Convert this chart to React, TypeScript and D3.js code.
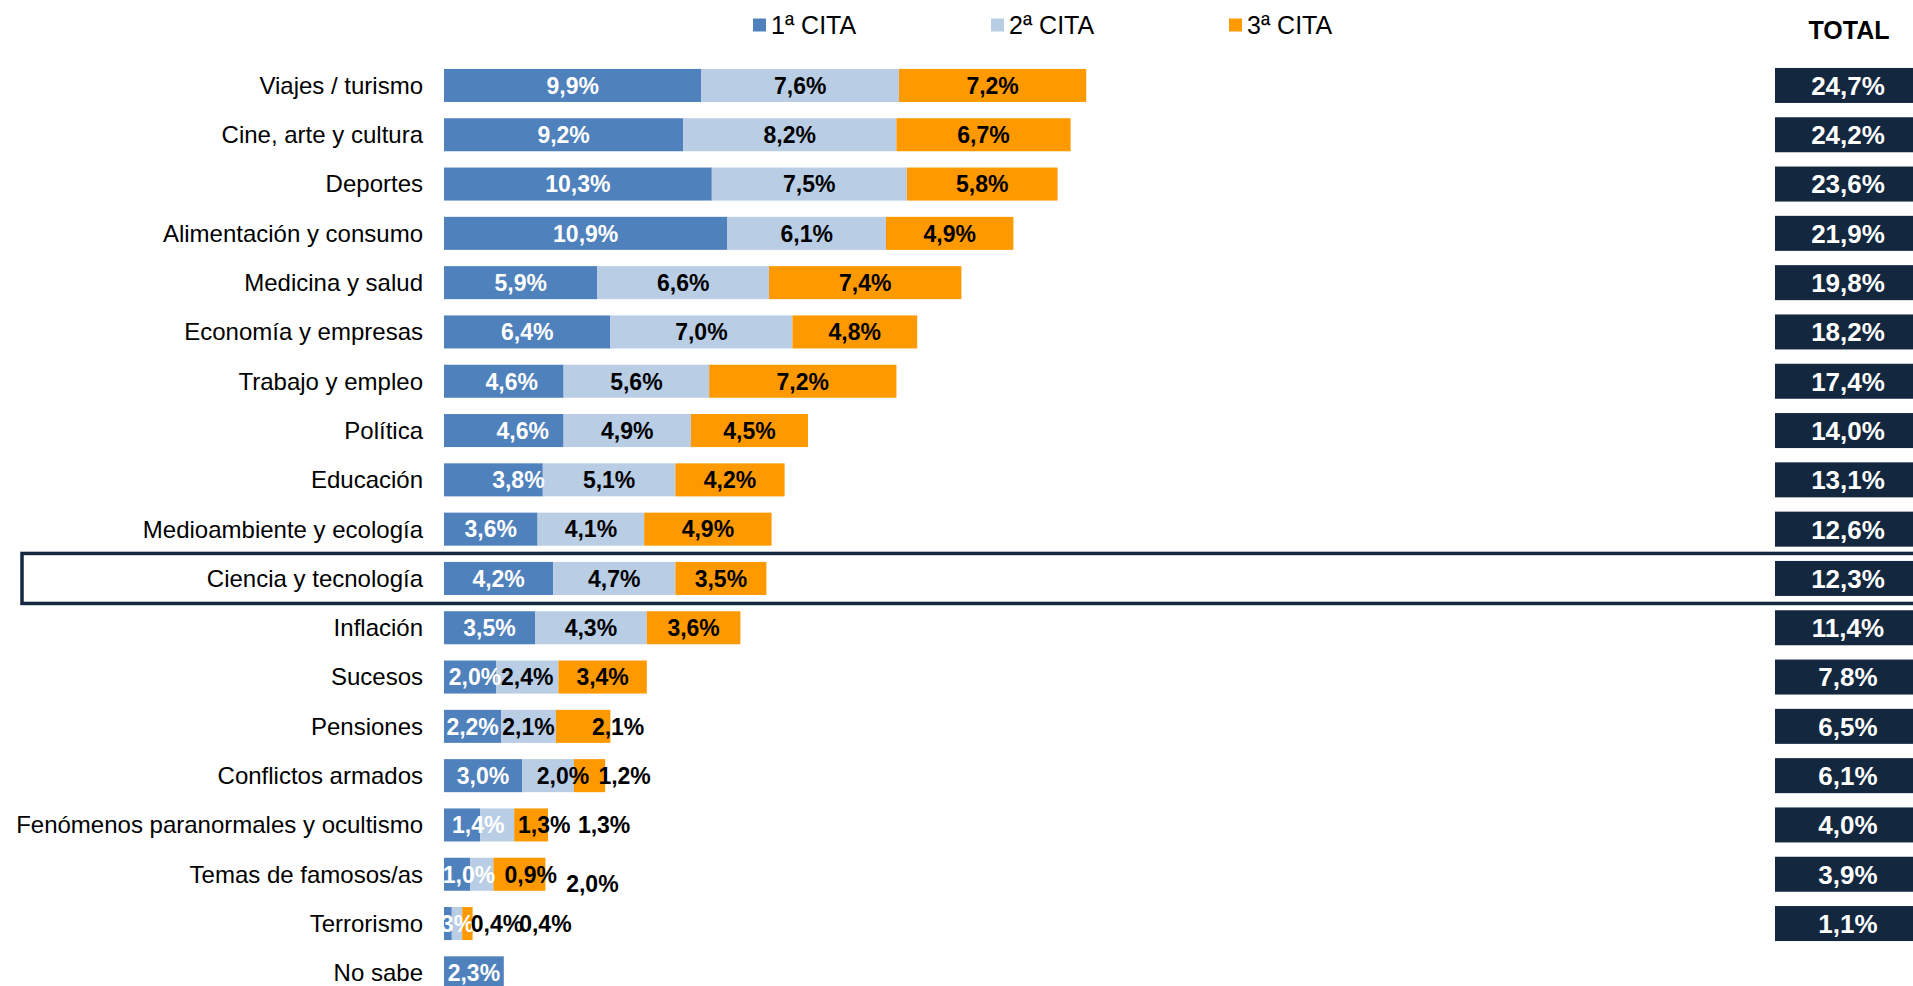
import React from 'react';
import * as d3 from "d3";

const categories = [
    "Viajes / turismo", "Cine, arte y cultura", "Deportes", "Alimentación y consumo",
    "Medicina y salud", "Economía y empresas", "Trabajo y empleo", "Política",
    "Educación", "Medioambiente y ecología", "Ciencia y tecnología", "Inflación",
    "Sucesos", "Pensiones", "Conflictos armados", "Fenómenos paranormales y ocultismo",
    "Temas de famosos/as", "Terrorismo", "No sabe"
];

const cita1 = [9.9, 9.2, 10.3, 10.9, 5.9, 6.4, 4.6, 4.6, 3.8, 3.6, 4.2, 3.5, 2.0, 2.2, 3.0, 1.4, 1.0, 0.3, 2.3];
const cita2 = [7.6, 8.2, 7.5, 6.1, 6.6, 7.0, 5.6, 4.9, 5.1, 4.1, 4.7, 4.3, 2.4, 2.1, 2.0, 1.3, 0.9, 0.4, null];
const cita3 = [7.2, 6.7, 5.8, 4.9, 7.4, 4.8, 7.2, 4.5, 4.2, 4.9, 3.5, 3.6, 3.4, 2.1, 1.2, 1.3, 2.0, 0.4, null];

const totals = [24.7, 24.2, 23.6, 21.9, 19.8, 18.2, 17.4, 14.0, 13.1, 12.6, 12.3, 11.4, 7.8, 6.5, 6.1, 4.0, 3.9, 1.1];

const seriesNames = ["1ª CITA", "2ª CITA", "3ª CITA"];
const highlighted = "Ciencia y tecnología";

// colours per series and label colours
const colors = ["#4f81bd", "#b9cde5", "#ff9900"];
const labelColors = ["#ffffff", "#000000", "#000000"];
const navy = "#13273f";

// hand-moved labels in the original chart: "row|series" -> [dx, dy]
const labelNudge = {
    "Trabajo y empleo|0": [8, 0],
    "Política|0": [19, 0],
    "Educación|0": [25, 0],
    "Sucesos|0": [5, 0],
    "Pensiones|2": [35, 0],
    "Conflictos armados|1": [15, 0],
    "Conflictos armados|2": [35, 0],
    "Fenómenos paranormales y ocultismo|0": [16, 0],
    "Fenómenos paranormales y ocultismo|1": [47, 0],
    "Fenómenos paranormales y ocultismo|2": [73, 0],
    "Temas de famosos/as|0": [12, 0],
    "Temas de famosos/as|1": [49, 0],
    "Temas de famosos/as|2": [73, 9],
    "Terrorismo|1": [40, 0],
    "Terrorismo|2": [78, 0]
};

const width = 1913;
const height = 986;
const font = "'Liberation Sans', Arial, sans-serif";

const fmt = (v) => d3.format(".1f")(v).replace(".", ",") + "%";

export default function App() {
    const scaleX = React.useMemo(() => d3.scaleLinear().domain([0, 25]).range([444, 1094]), []);
    const scaleY = React.useMemo(() => d3.scaleBand()
        .domain(categories)
        .range([60.8, 60.8 + 49.3 * categories.length])
        .paddingInner(0.33)
        .paddingOuter(0.165), []);

    const rows = React.useMemo(() => categories.map((c, i) => {
        const vals = [cita1[i], cita2[i], cita3[i]];
        let acc = 0;
        const segs = [];
        vals.forEach((v, s) => {
            if (v == null) return;
            segs.push({ s, v, x0: acc, x1: acc + v });
            acc += v;
        });
        return { c, segs };
    }), []);

    const bw = scaleY.bandwidth();
    const hy = scaleY(highlighted) + bw / 2;

    return (
        <svg width={width} height={height} style={{ position: "absolute", left: 0, top: 0 }}
             fontFamily={font}>
            <defs>
                <clipPath id="plotClip">
                    <rect x={scaleX(0)} y={0} width={width} height={height} />
                </clipPath>
            </defs>

            {/* legend */}
            {seriesNames.map((n, s) => (
                <g key={n} transform={`translate(${753 + s * 238}, 25)`}>
                    <rect x={0} y={-6.5} width={13} height={13} fill={colors[s]} />
                    <text x={18} y={0} dy="0.35em" fontSize={25} fill="#000">{n}</text>
                </g>
            ))}
            <text x={1849} y={30} dy="0.35em" fontSize={25} fontWeight="bold" textAnchor="middle">TOTAL</text>

            {/* highlight */}
            <rect x={22} y={hy - 25} width={width} height={50} fill="none" stroke={navy} strokeWidth={3.5} />

            {/* category labels */}
            {categories.map(c => (
                <text key={c} x={423} y={scaleY(c) + bw / 2} dy="0.35em" fontSize={24}
                      textAnchor="end" fill="#000">{c}</text>
            ))}

            {/* bars */}
            {rows.map(r => r.segs.map(d => (
                <rect key={r.c + d.s} x={scaleX(d.x0)} y={scaleY(r.c)}
                      width={scaleX(d.x1) - scaleX(d.x0)} height={bw} fill={colors[d.s]} />
            )))}

            {/* bar labels */}
            <g clipPath="url(#plotClip)">
                {rows.map(r => r.segs.map(d => {
                    const nudge = labelNudge[r.c + "|" + d.s] || [0, 0];
                    return (
                        <text key={r.c + "l" + d.s}
                              x={scaleX((d.x0 + d.x1) / 2) + nudge[0]}
                              y={scaleY(r.c) + bw / 2 + nudge[1]}
                              dy="0.36em" textAnchor="middle" fontSize={23} fontWeight="bold"
                              fill={labelColors[d.s]}>{fmt(d.v)}</text>
                    );
                }))}
            </g>

            {/* totals */}
            {totals.map((t, i) => {
                const cy = scaleY(categories[i]) + bw / 2;
                return (
                    <g key={"t" + i}>
                        <rect x={1775} y={cy - 17.5} width={width - 1775} height={35} fill={navy} />
                        <text x={1848} y={cy} dy="0.36em" textAnchor="middle" fontSize={26}
                              fontWeight="bold" fill="#fff">{fmt(t)}</text>
                    </g>
                );
            })}
        </svg>
    );
}
